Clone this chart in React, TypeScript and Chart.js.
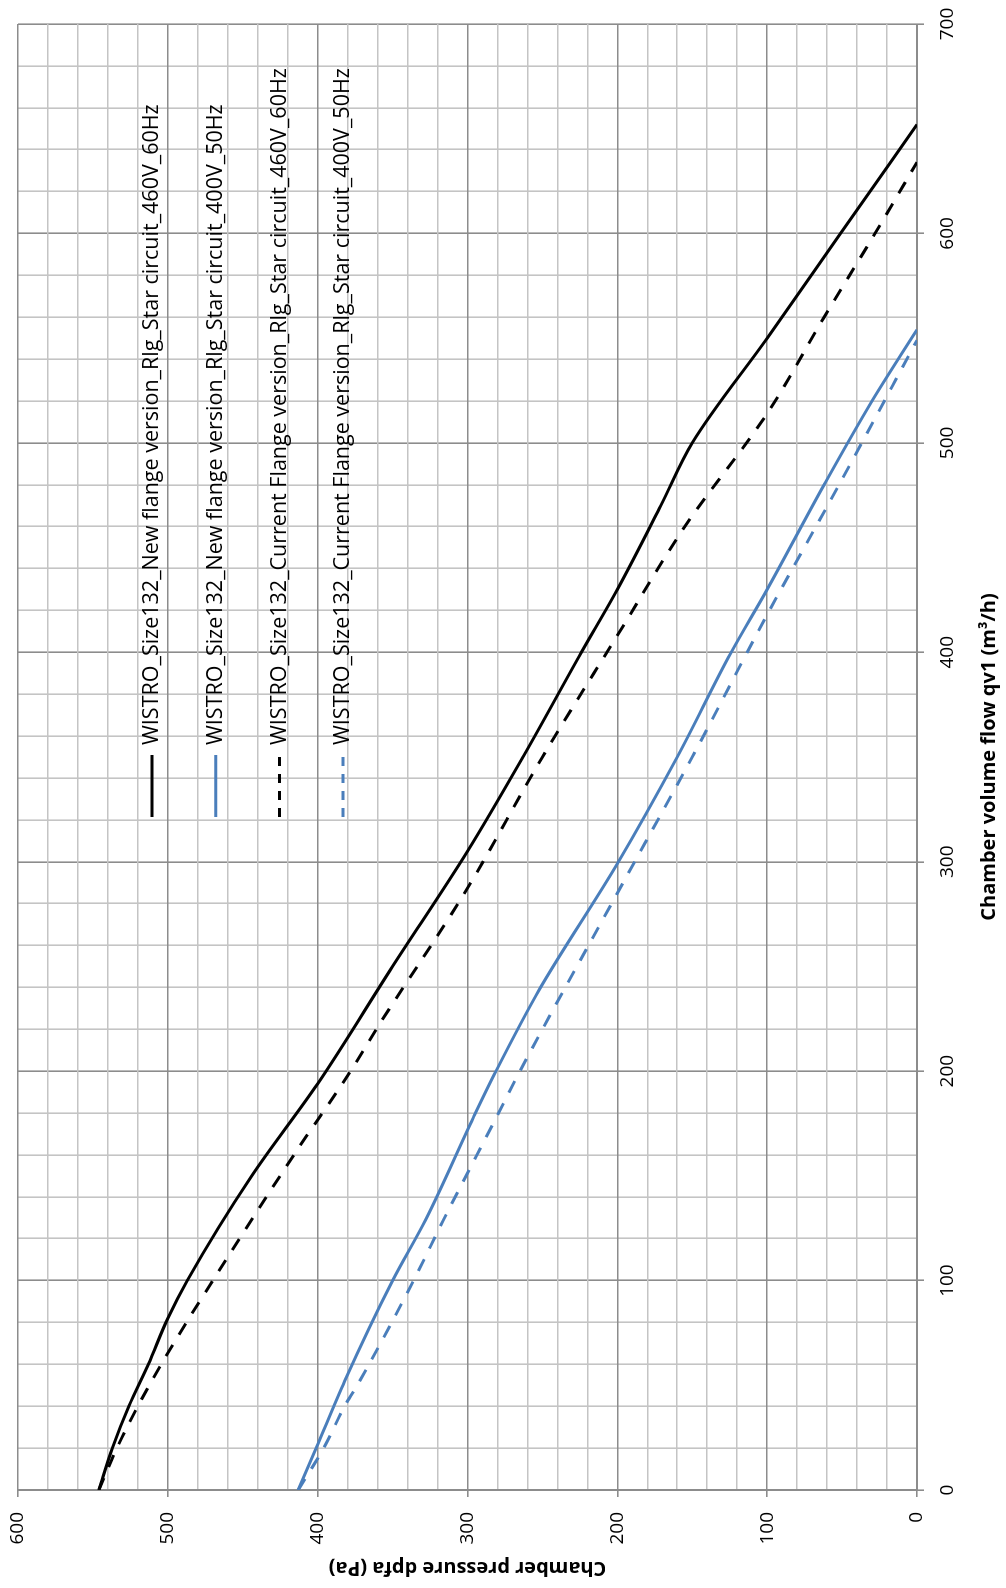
import React, { useEffect, useRef } from 'react';
import { Chart, registerables } from 'chart.js';

Chart.register(...registerables);

// ---------- data ----------
const seriesLabels = [
  'WISTRO_Size132_New flange version_Rlg_Star circuit_460V_60Hz',
  'WISTRO_Size132_New flange version_Rlg_Star circuit_400V_50Hz',
  'WISTRO_Size132_Current Flange version_Rlg_Star circuit_460V_60Hz',
  'WISTRO_Size132_Current Flange version_Rlg_Star circuit_400V_50Hz',
];

// Chamber volume flow qv1 (m3/h) and chamber pressure dpfa (Pa)
const flowNew460 = [0, 20, 40, 60, 82, 100, 150, 194, 250, 305, 350, 400, 430, 470, 500, 550, 600, 652];
const pressNew460 = [546, 537, 526, 513, 500, 487, 444, 400, 350, 300, 263, 224, 200, 171, 150, 100, 51, 0];

const flowNew400 = [0, 20, 52, 100, 129, 178, 200, 239, 299, 350, 400, 430, 480, 520, 554];
const pressNew400 = [413, 401, 382, 350, 328, 296, 281, 252, 200, 160, 124, 100, 62, 30, 0];

const flowCur460 = [0, 20, 40, 63, 100, 162, 200, 221, 285, 350, 408, 460, 514, 560, 600, 634];
const pressCur460 = [546, 534, 520, 502, 470, 414, 378, 360, 302, 250, 200, 155, 100, 62, 28, 0];

const flowCur400 = [0, 20, 40, 52, 100, 129, 179, 200, 285, 350, 418, 480, 549];
const pressCur400 = [413, 396, 382, 372, 336, 316, 280, 265, 200, 150, 100, 52, 0];

const flowMajorTicks = [0, 100, 200, 300, 400, 500, 600, 700];
const pressureMajorTicks = [0, 100, 200, 300, 400, 500, 600];
const MINOR_STEP = 20;

const xTitle = 'Chamber volume flow qv1 (m³/h)';
const yTitle = 'Chamber pressure dpfa (Pa)';

// ---------- styles ----------
const CHART_W = 1588;
const CHART_H = 1006;
const FONT = '"Open Sans", "DejaVu Sans", sans-serif';
const MAJOR_GRID = '#8c8c8c';
const MINOR_GRID = '#c4c4c4';
const BLUE = '#4a7ebb';

const toPoints = (xs: number[], ys: number[]) => xs.map((x, i) => ({ x, y: ys[i] }));

const buildTicks = (majors: number[]) => {
  const out: { value: number }[] = [];
  const max = majors[majors.length - 1];
  for (let v = majors[0]; v <= max; v += MINOR_STEP) out.push({ value: v });
  return out;
};

const isMajor = (v: number) => v % 100 === 0;

const legendPlugin = {
  id: 'rotatedLegend',
  afterDraw(chart: any) {
    const ctx = chart.ctx;
    const lineStart = 771;
    const lineLen = 62;
    const firstRow = 152;
    const rowGap = 63.7;
    ctx.save();
    chart.data.datasets.forEach((ds: any, i: number) => {
      const y = firstRow + i * rowGap;
      ctx.strokeStyle = ds.borderColor;
      ctx.lineWidth = ds.borderWidth;
      ctx.setLineDash(ds.borderDash ? [9, 8] : []);
      ctx.beginPath();
      ctx.moveTo(lineStart, y);
      ctx.lineTo(lineStart + lineLen, y);
      ctx.stroke();
      ctx.setLineDash([]);
      ctx.fillStyle = '#000';
      ctx.font = `21.5px ${FONT}`;
      ctx.textAlign = 'left';
      ctx.textBaseline = 'middle';
      ctx.fillText(ds.label, lineStart + lineLen + 10, y);
    });
    ctx.restore();
  },
};

export default function App() {
  const ref = useRef<HTMLCanvasElement>(null);

  useEffect(() => {
    const canvas = ref.current;
    if (!canvas) return;
    const gridOpts = {
      color: (c: any) => (c.tick && isMajor(c.tick.value) ? MAJOR_GRID : MINOR_GRID),
      tickColor: (c: any) => (c.tick && isMajor(c.tick.value) ? MAJOR_GRID : 'rgba(0,0,0,0)'),
      lineWidth: 1.6,
      tickLength: 7,
      drawTicks: true,
    };
    const chart = new Chart(canvas, {
      type: 'scatter',
      data: {
        datasets: [
          {
            label: seriesLabels[0],
            data: toPoints(flowNew460, pressNew460),
            borderColor: '#000000',
            backgroundColor: '#000000',
            borderWidth: 3,
          },
          {
            label: seriesLabels[1],
            data: toPoints(flowNew400, pressNew400),
            borderColor: BLUE,
            backgroundColor: BLUE,
            borderWidth: 3,
          },
          {
            label: seriesLabels[2],
            data: toPoints(flowCur460, pressCur460),
            borderColor: '#000000',
            backgroundColor: '#000000',
            borderWidth: 3,
            borderDash: [13, 12],
          },
          {
            label: seriesLabels[3],
            data: toPoints(flowCur400, pressCur400),
            borderColor: BLUE,
            backgroundColor: BLUE,
            borderWidth: 3,
            borderDash: [13, 12],
          },
        ].map((d) => ({
          ...d,
          showLine: true,
          pointRadius: 0,
          pointHoverRadius: 0,
          cubicInterpolationMode: 'monotone' as const,
          fill: false,
        })),
      },
      options: {
        responsive: false,
        animation: false,
        devicePixelRatio: 1,
        layout: { padding: { left: 0, top: 18, right: 24, bottom: 0 } },
        plugins: {
          legend: { display: false },
          tooltip: { enabled: false },
        },
        scales: {
          x: {
            type: 'linear',
            position: 'bottom',
            min: 0,
            max: 700,
            afterBuildTicks: (s: any) => {
              s.ticks = buildTicks(flowMajorTicks);
            },
            afterFit: (s: any) => {
              s.height = 89;
              s.paddingLeft = 0;
              s.paddingRight = 0;
            },
            ticks: {
              autoSkip: false,
              maxRotation: 0,
              minRotation: 0,
              padding: 12,
              color: '#000',
              font: { family: FONT, size: 19 },
              callback: (v: any) => (isMajor(Number(v)) ? String(v) : ''),
            },
            grid: gridOpts,
            border: { display: true, color: MAJOR_GRID, width: 2 },
            title: {
              display: true,
              text: xTitle,
              color: '#000',
              font: { family: FONT, size: 20, weight: 'bold' },
              padding: { top: 0, bottom: 5 },
            },
          },
          y: {
            type: 'linear',
            position: 'left',
            min: 0,
            max: 600,
            afterBuildTicks: (s: any) => {
              s.ticks = buildTicks(pressureMajorTicks);
            },
            afterFit: (s: any) => {
              s.width = 98;
              s.paddingTop = 0;
              s.paddingBottom = 0;
            },
            ticks: {
              autoSkip: false,
              padding: 15,
              color: '#000',
              font: { family: FONT, size: 19 },
              callback: (v: any) => (isMajor(Number(v)) ? String(v) : ''),
            },
            grid: gridOpts,
            border: { display: true, color: MAJOR_GRID, width: 2 },
            title: {
              display: true,
              text: yTitle,
              color: '#000',
              font: { family: FONT, size: 20, weight: 'bold' },
              padding: { top: 8, bottom: 0 },
            },
          },
        },
      } as any,
      plugins: [legendPlugin],
    });
    return () => chart.destroy();
  }, []);

  return (
    <div
      style={{
        position: 'fixed',
        left: 0,
        top: 0,
        width: 1006,
        height: 1588,
        overflow: 'hidden',
        background: '#ffffff',
      }}
    >
      <div
        style={{
          position: 'absolute',
          left: 0,
          top: 0,
          width: CHART_W,
          height: CHART_H,
          transformOrigin: '0 0',
          transform: `translate(0px, ${CHART_W}px) rotate(-90deg)`,
        }}
      >
        <canvas
          ref={ref}
          width={CHART_W}
          height={CHART_H}
          style={{ display: 'block', width: CHART_W, height: CHART_H }}
        />
      </div>
    </div>
  );
}
